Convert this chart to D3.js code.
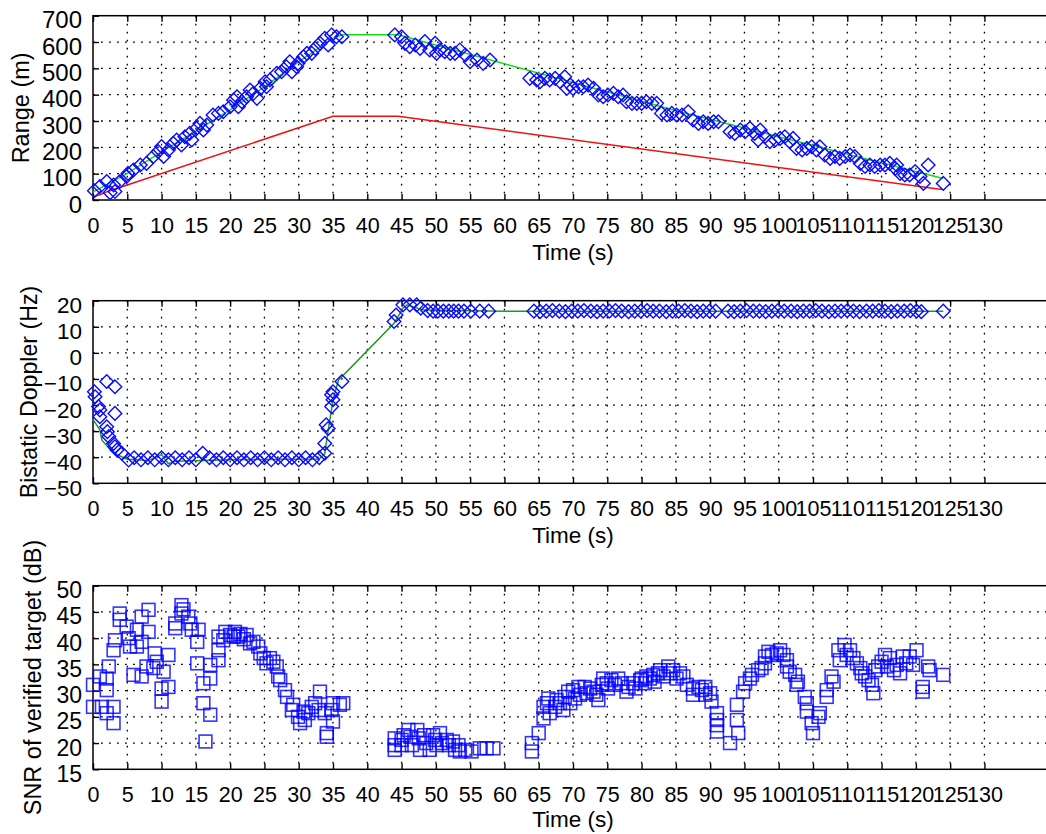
<!DOCTYPE html>
<html><head><meta charset="utf-8">
<script src="https://cdn.jsdelivr.net/npm/d3@7"></script>
<style>
body{margin:0;background:#fff}
svg text{font-family:"Liberation Sans",Arial,Helvetica,sans-serif;fill:#000}
</style>
</head><body><svg id="c" width="1046" height="834"></svg>
<script>
// ---------- tick labels ----------
const timeTicks = [0,5,10,15,20,25,30,35,40,45,50,55,60,65,70,75,80,85,90,95,100,105,110,115,120,125,130];
const rangeTicks = [0,100,200,300,400,500,600,700];
const dopplerTicks = [-50,-40,-30,-20,-10,0,10,20];
const snrTicks = [15,20,25,30,35,40,45,50];

// ---------- Range panel ----------
const rangeT = [0.2,1.0,2.0,2.5,3.2,3.0,3.9,4.9,5.1,5.9,6.9,7.8,8.8,9.5,10.0,10.3,11.0,11.7,12.2,12.9,
 13.4,14.1,14.4,15.1,15.6,16.1,16.6,17.5,18.3,19.0,20.0,20.5,21.0,21.2,21.7,22.4,22.9,23.4,23.9,24.4,
 25.1,25.3,25.8,26.8,27.5,28.2,28.7,29.0,29.7,29.9,30.7,31.2,31.9,32.4,33.1,33.8,34.3,34.8,35.5,36.3,
 44.0,45.0,45.5,46.2,47.0,47.7,48.4,49.1,49.9,50.1,50.6,51.3,52.1,52.8,53.5,54.3,55.0,56.0,56.9,57.9,
 63.7,64.7,65.2,65.9,66.6,67.4,68.1,68.8,69.1,69.6,70.0,70.8,71.5,72.2,73.0,73.7,74.4,75.1,75.9,76.6,
 77.3,77.8,78.6,79.3,80.0,80.7,81.5,82.2,82.9,83.7,84.4,85.1,85.9,
 86.8,87.5,88.3,89.0,89.7,90.5,91.2,92.9,93.6,94.4,95.1,95.8,96.5,97.0,97.3,98.0,98.7,
 99.5,100.2,100.9,101.6,102.1,102.6,103.4,104.1,104.8,105.5,106.0,106.7,107.5,108.2,108.9,109.7,110.4,111.1,111.9,112.6,
 113.3,114.0,114.8,115.5,116.2,117.0,117.2,117.7,118.4,119.1,119.9,120.6,121.1,121.8,124.0];
const rangeV = [35,51,70,28,32,57,70,89,101,114,133,139,165,184,203,165,190,215,228,209,
 240,253,228,272,291,266,285,323,329,335,354,380,392,354,373,392,418,405,386,424,
 449,430,456,481,487,506,525,487,506,519,544,557,557,576,595,614,589,627,620,620,
 627,620,595,582,589,576,602,570,595,557,570,563,557,557,570,551,525,532,519,532,
 462,456,449,462,456,462,449,468,424,437,424,430,430,437,424,399,392,399,405,392,
 399,373,367,367,367,373,367,367,329,323,329,323,323,
 335,304,291,297,291,297,297,259,253,266,259,272,253,228,266,240,221,
 228,234,240,221,234,196,190,196,202,190,202,171,158,165,158,165,171,165,139,127,
 133,127,133,133,139,120,133,101,95,95,108,89,63,133,63];
const rangeFitT = [0,5,10,15,20,25,30,35,36.5,44.5,85.6,124];
const rangeFitV = [30,101,183,262,342,430,525,615,628,628,335,82];
const rangeRefT = [0,1,2,3,5,35,44.5,123.8];
const rangeRefV = [13,20,31,40,57,318,318,40];

// ---------- Doppler panel ----------
const dopT = [0.2,0.3,0.8,1.0,1.0,2.0,3.2,3.2,2.0,2.1,2.3,3.0,3.2,3.5,4.2,5.2,
 6,7,8,9,10,11,12,13,14,15,16,17,18,19,20,21,22,23,24,25,26,27,28,29,30,31,32,33,
 33.8,33.8,34.0,34.3,34.8,35.0,34.8,35.0,36.3,
 43.9,44.2,45.2,46.2,47.2,47.8,48.8,49.6,50.3,51.1,51.9,52.6,53.3,54.1,55.1,56.4,57.7,
 64.3,65.2,66.1,67.0,68.0,68.9,69.8,70.7,71.6,72.6,73.5,74.4,75.3,76.2,77.1,78.1,79.0,79.9,80.8,81.7,
 82.6,83.6,84.5,85.4,86.3,87.2,88.1,89.0,89.9,90.8,
 92.6,93.5,94.4,95.3,96.3,97.2,98.1,99.0,99.9,100.8,101.8,102.7,103.6,104.5,105.4,106.3,107.3,108.2,
 109.1,110.0,110.9,111.8,112.8,113.7,114.6,115.5,116.4,117.3,118.3,119.2,120.1,120.8,124.0];
const dopV = [-14.9,-16.8,-20.6,-21.9,-24.5,-11,-13,-23.2,-28.3,-30.2,-32.1,-34.7,-36,-37.2,-38.5,-41.1,
 -40.2,-41,-40.2,-41,-40.2,-41,-40.2,-41,-40.2,-41,-38.5,-40.2,-41,-40.2,-41,-40.2,-41,-40.2,-41,-40.2,-41,-40.2,-41,-40.2,-41,-40.2,-41,-40.2,
 -38.5,-34.7,-27.6,-29,-16.1,-18,-20.6,-14.9,-11,
 12,14.5,18.4,18.4,18.4,17.1,16.2,16,16,16,16,16,16,16,16,16,16,
 16,15.8,16,16.2,16,15.8,16,16,16.2,16,15.8,16,16,16.2,16,15.8,16,16,16.2,16,
 16,15.8,16,16,16.2,16,15.8,16,16,16,
 16,15.8,16,16.2,16,16,15.8,16,16.2,16,16,15.8,16,16,16.2,16,15.8,16,
 16,16.2,16,15.8,16,16,16.2,16,15.8,16,16,16.2,16,15.8,16];
const dopFitT = [0,1,1.3,2.5,3.5,5,8,10,11,12,20,33,33.8,34.3,35,35.8,43.9,45.2,45.8,48.2,60,124];
const dopFitV = [-25.5,-29.5,-33.5,-37,-39,-40.8,-41.3,-39,-42.5,-41.5,-41,-40.7,-38.6,-29.6,-18,-10.5,11.3,17.1,18.4,16.4,16,16];

// ---------- SNR panel ----------
const snrT = [0.0,0.0,1.0,1.3,2.0,2.0,2.3,2.0,3.0,3.0,3.0,3.2,3.9,3.9,4.9,5.2,5.4,5.9,6.4,6.4,
 7.1,7.1,7.1,7.8,8.1,8.1,8.8,9.0,9.3,10.0,10.0,10.3,11.0,11.0,12.0,12.0,12.9,12.9,13.2,13.9,
 14.2,14.4,15.2,15.2,15.4,16.1,16.1,16.4,17.1,17.1,17.1,18.3,18.3,18.3,19.0,19.3,20.0,20.5,20.7,21.2,
 21.5,22.0,22.4,22.9,23.4,24.1,24.4,24.9,25.3,25.8,26.3,26.8,27.0,27.3,28.0,28.3,29.0,29.2,29.9,30.2,
 30.7,30.9,31.4,31.9,32.4,32.9,33.1,33.8,34.1,34.1,34.8,35.0,35.0,36.0,36.5,
 44.0,44.0,44.0,45.0,45.0,45.3,46.0,46.3,46.5,47.3,47.5,47.7,48.3,48.6,49.1,49.6,49.9,50.1,50.6,50.9,
 51.6,51.9,52.5,52.8,53.3,53.5,54.3,55.2,56.4,57.4,58.4,
 64.0,64.0,65.0,65.7,65.7,66.2,66.4,66.6,67.4,67.6,68.1,68.6,68.8,69.3,69.6,70.0,70.3,70.8,71.0,71.7,
 72.0,72.5,73.0,73.4,73.7,74.2,74.4,74.9,75.1,75.6,76.1,76.6,77.1,77.8,78.1,78.8,79.1,79.8,80.0,80.5,
 80.7,81.2,81.7,81.9,82.4,82.7,83.2,83.9,84.1,84.6,85.1,85.6,
 86.1,86.6,87.5,87.5,88.3,88.8,89.3,89.3,90.0,90.2,91.0,91.0,91.0,91.0,92.9,93.9,93.9,94.1,94.8,95.1,
 95.8,96.1,97.0,97.5,98.0,98.0,98.5,99.0,99.7,100.2,100.7,101.2,101.2,101.6,102.4,102.6,102.8,103.8,104.1,104.1,
 104.8,105.0,105.8,106.0,107.0,107.0,107.7,108.0,108.7,108.9,109.6,109.9,110.4,110.9,111.4,111.9,112.1,112.6,113.1,113.6,
 113.8,114.1,114.5,115.0,115.5,115.8,116.2,116.8,117.2,117.7,118.1,118.6,119.1,119.6,120.1,121.0,121.0,121.8,122.0,124.0];
const snrV = [31.1,26.9,32.7,26.9,32.3,30.1,34.6,25.7,26.9,23.8,37.7,39.6,44.7,43.5,42.2,40,38.4,33,41.6,38.4,
 32.7,44.1,39.3,34.6,45.4,41.2,34.3,37.1,35.5,30.4,27.9,33.6,30.7,36.8,42.8,41.9,46.3,44.7,45.5,44.1,
 42.8,41.6,39.3,35.2,41.6,31.4,27.6,20.3,32.3,25.4,34.9,35.8,37.7,40.3,39.6,41.2,40.6,40.3,41.2,40.3,
 40.8,39.8,40.6,39,39.3,38.4,37.1,36.2,35.2,36.2,35.5,34.6,32.7,32,30.1,28.8,26.3,27.3,25,23.8,
 26,24.4,25.7,26.9,27.6,26.3,29.8,25.7,21.9,21.2,26.3,24.1,27.6,27.3,27.6,
 20.9,19.6,18.7,20.6,19.6,21.5,22.5,21.2,19.6,22.5,20.9,18.7,21.5,20,18.7,21.5,20.6,19.6,21.9,20,
 20.6,19.6,20.3,18.7,19.6,18.4,18.7,18.4,19,19,19,
 20,18.4,21.9,24.7,26.9,27.6,28.5,25.7,26.9,28.2,27.6,26.3,28.8,29.8,27.6,30.1,28.5,30.7,29.2,30.7,
 29.5,30.4,29.8,29.2,28.2,31.1,32.3,31.4,30.4,32,31.1,32.3,31.4,29.8,30.7,31.4,30.4,32,32.3,31.4,
 32.7,32.3,33,31.7,33.3,33.9,32.7,34.6,33.3,33.9,32.3,33.3,
 32.7,31.1,30.4,29.2,30.7,30.1,30.7,29.2,29.5,27.9,25.7,24.4,23.4,22.2,20,27.3,24.4,21.9,29.8,31.4,
 32.3,33,33.9,34.3,36.5,35.2,37.4,36.8,37.1,37.7,36.8,35.8,34.6,33.6,33,31.1,31.7,28.8,27.6,26,
 23.8,21.9,25,25.7,28.8,30.1,32.7,31.7,37.7,35.8,38.7,36.8,37.7,36.2,35.2,34.3,33.3,32.7,32,31.1,
 29.5,33.9,34.6,35.5,36.8,34.6,36.2,33.9,34.9,33.3,36.5,35.2,36.5,34.9,37.7,30.7,29.8,34.6,33.9,33];

// ---------- drawing ----------
const svg = d3.select('#c');
const x = d3.scaleLinear().domain([0,140]).range([93,1053]);
const XL = 93, XR = 1053;

const panels = [
 {top:15.7, bot:200,   dom:[0,700],  ticks:rangeTicks,   title:'Range (m)',                 titleX:28.5, titleSize:23.5, yFont:24,   xTitleY:260},
 {top:300.7, bot:483.3, dom:[-50,20], ticks:dopplerTicks, title:'Bistatic Doppler (Hz)',     titleX:37,   titleSize:23.2, yFont:22.5, xTitleY:543},
 {top:585.7, bot:769.3, dom:[15,50],  ticks:snrTicks,     title:'SNR of verified target (dB)', titleX:41, titleSize:23.5, yFont:23,   xTitleY:827}
];

panels.forEach(p => {
  p.y = d3.scaleLinear().domain(p.dom).range([p.bot, p.top]);
  const g = svg.append('g');
  // grid
  g.selectAll('.gv').data(timeTicks.filter(t => t > 0)).join('line')
    .attr('x1', d => x(d)).attr('x2', d => x(d)).attr('y1', p.top).attr('y2', p.bot)
    .attr('stroke', '#000').attr('stroke-width', 1.3).attr('stroke-dasharray', '1.8,6.2');
  g.selectAll('.gh').data(p.ticks.filter(v => v !== p.dom[0] && v !== p.dom[1])).join('line')
    .attr('x1', XL).attr('x2', XR).attr('y1', d => p.y(d)).attr('y2', d => p.y(d))
    .attr('stroke', '#000').attr('stroke-width', 1.3).attr('stroke-dasharray', '1.8,6.2');
  // frame
  g.append('rect').attr('x', XL).attr('y', p.top).attr('width', XR - XL).attr('height', p.bot - p.top)
    .attr('fill', 'none').attr('stroke', '#000').attr('stroke-width', 1.5);
  // bottom axis
  const ax = g.append('g').attr('transform', `translate(0,${p.bot})`)
    .call(d3.axisBottom(x).tickValues(timeTicks).tickSizeInner(-6).tickSizeOuter(0));
  ax.select('.domain').remove();
  ax.selectAll('line').attr('stroke', '#000').attr('stroke-width', 1.4);
  ax.selectAll('text').attr('y', 33).attr('dy', null).style('font-size', '21.5px')
    .style('font-family', '"Liberation Sans",Arial,sans-serif').attr('fill', '#000');
  // top mirror ticks
  const axt = g.append('g').attr('transform', `translate(0,${p.top})`)
    .call(d3.axisTop(x).tickValues(timeTicks).tickSizeInner(-6).tickSizeOuter(0).tickFormat(''));
  axt.select('.domain').remove();
  axt.selectAll('line').attr('stroke', '#000').attr('stroke-width', 1.4);
  // left axis
  const ay = g.append('g').attr('transform', `translate(${XL},0)`)
    .call(d3.axisLeft(p.y).tickValues(p.ticks).tickSizeInner(-6).tickSizeOuter(0));
  ay.select('.domain').remove();
  ay.selectAll('line').attr('stroke', '#000').attr('stroke-width', 1.4);
  ay.selectAll('text').attr('x', -11).attr('dy', null).attr('y', 12).style('font-size', p.yFont + 'px')
    .style('font-family', '"Liberation Sans",Arial,sans-serif').attr('fill', '#000');
  // titles
  g.append('text').attr('x', (XL + XR) / 2).attr('y', p.xTitleY).attr('text-anchor', 'middle')
    .style('font-size', '22.5px').text('Time (s)');
  g.append('text').attr('transform', `translate(${p.titleX},${(p.top + p.bot) / 2}) rotate(-90)`)
    .attr('text-anchor', 'middle').style('font-size', p.titleSize + 'px').text(p.title);
  p.g = g;
});

// Range panel marks
{
  const p = panels[0];
  const line = d3.line().x(d => x(d[0])).y(d => p.y(d[1]));
  p.g.append('path').datum(d3.zip(rangeRefT, rangeRefV)).attr('d', line)
    .attr('fill', 'none').attr('stroke', '#ee1111').attr('stroke-width', 1.5);
  p.g.append('path').datum(d3.zip(rangeFitT, rangeFitV)).attr('d', line)
    .attr('fill', 'none').attr('stroke', '#11dd11').attr('stroke-width', 1.5);
  p.g.selectAll('.dm').data(d3.zip(rangeT, rangeV)).join('path')
    .attr('d', 'M0,-6.8L6.8,0L0,6.8L-6.8,0Z')
    .attr('transform', d => `translate(${x(d[0])},${p.y(d[1])})`)
    .attr('fill', 'none').attr('stroke', '#0a0aff').attr('stroke-width', 1.4);
}
// Doppler panel marks
{
  const p = panels[1];
  const line = d3.line().x(d => x(d[0])).y(d => p.y(d[1]));
  p.g.append('path').datum(d3.zip(dopFitT, dopFitV)).attr('d', line)
    .attr('fill', 'none').attr('stroke', '#1e9a1e').attr('stroke-width', 1.5);
  p.g.selectAll('.dm').data(d3.zip(dopT, dopV)).join('path')
    .attr('d', 'M0,-6.8L6.8,0L0,6.8L-6.8,0Z')
    .attr('transform', d => `translate(${x(d[0])},${p.y(d[1])})`)
    .attr('fill', 'none').attr('stroke', '#0a0aff').attr('stroke-width', 1.4);
}
// SNR panel marks
{
  const p = panels[2];
  p.g.selectAll('.sq').data(d3.zip(snrT, snrV)).join('rect')
    .attr('x', d => x(d[0]) - 6.4).attr('y', d => p.y(d[1]) - 6.4)
    .attr('width', 12.8).attr('height', 12.8)
    .attr('fill', 'none').attr('stroke', '#0000ff').attr('stroke-opacity', 0.8).attr('stroke-width', 1.6);
}
</script>
</body></html>
